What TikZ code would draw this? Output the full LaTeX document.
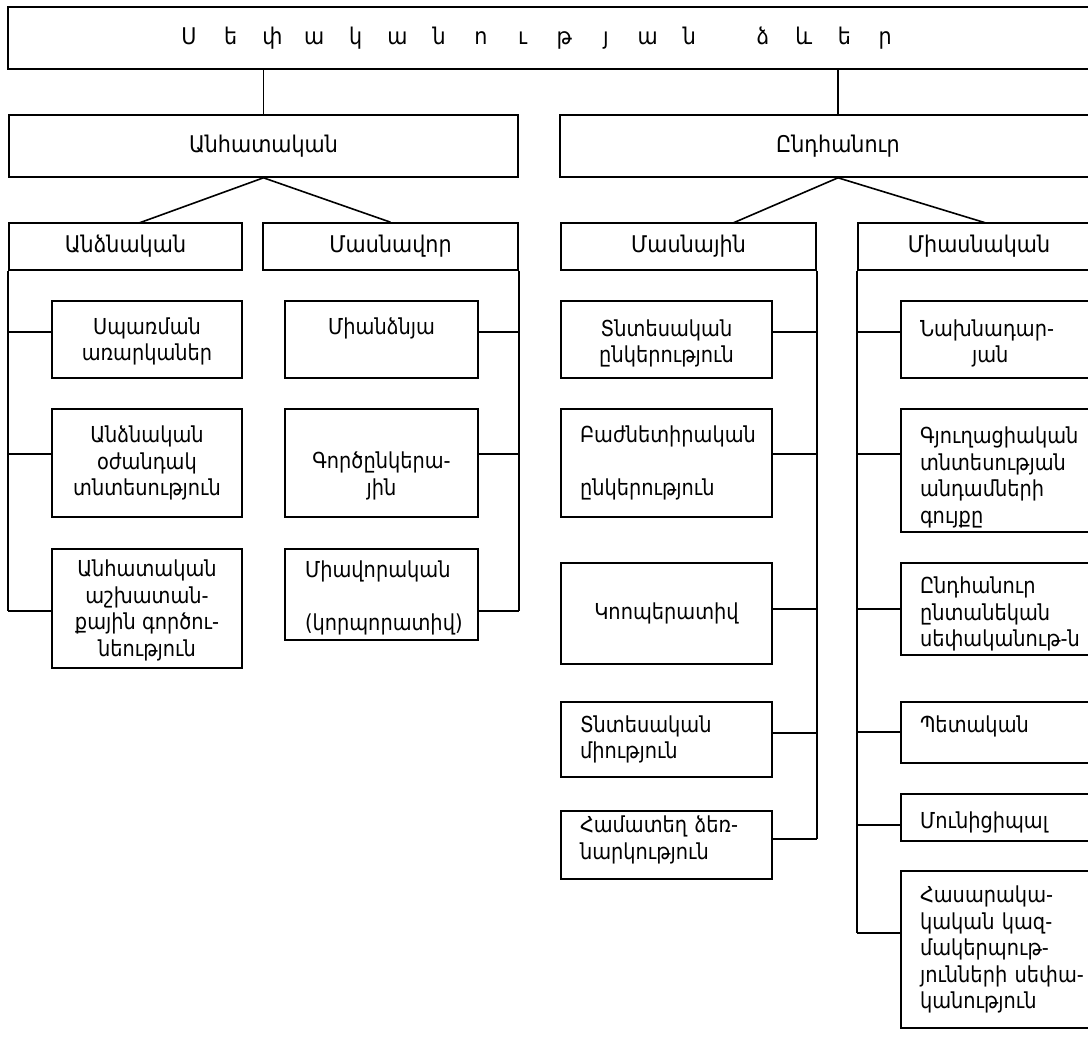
\documentclass[tikz,border=0pt]{standalone}
\usepackage{fontspec}
\setmainfont{DejaVu Sans}
\newfontfamily\hdfont[FakeStretch=0.9]{DejaVu Sans}
\newfontfamily\bdfont[FakeStretch=0.88]{DejaVu Sans}
\newcommand\bodyf{\bdfont\fontsize{22}{26.5}\selectfont}
\newcommand\headf{\hdfont\fontsize{23}{26}\selectfont}
\newcommand\tl[1]{\makebox[41.7pt]{#1}}
\newcommand\tm[1]{\makebox[40.7pt]{#1}}
\newcommand\up[1]{\rule{0pt}{#1pt}}
\newcommand\dn[1]{\rule[-#1pt]{0pt}{#1pt}}
\newcommand\bx[7][]{\node[box,#1,minimum width=#5pt,minimum height=#6pt] (#2) at ({#3+#5/2},{#4+#6/2}) {#7};}
\begin{document}
\begin{tikzpicture}[x=1pt,y=-1pt,
  box/.style={draw, line width=1.6pt, inner sep=0pt, align=center, font=\bodyf},
  hd/.style={font=\headf},
  lft/.style={align=left, text width=#1pt},
  conn/.style={line width=1.6pt},
]
\useasboundingbox (0,0) rectangle (1088,1039);
\clip (0,0) rectangle (1088,1039);
% level 1
\bx[hd]{title}{8}{7}{1092}{62}{\makebox[1092pt][l]{\hspace*{160.15pt}\tl{Ս}\tl{ե}\tl{փ}\tl{ա}\tl{կ}\tl{ա}\tl{ն}\tl{ո}\tl{ւ}\tl{թ}\tl{յ}\tl{ա}\tl{ն}\hspace*{32.4pt}\tm{ձ}\tm{և}\tm{ե}\tm{ր}}}
% level 2
\bx[hd]{anih}{9}{115}{509}{62}{Անհատական}
\bx[hd]{endh}{560}{115}{556}{62}{Ընդհանուր}
% level 3
\bx[hd]{andz}{9}{223}{233}{47}{Անձնական}
\bx[hd]{masnv}{263}{223}{255}{47}{Մասնավոր}
\bx[hd]{masny}{561}{223}{255}{47}{Մասնային}
\bx[hd]{miasn}{858}{223}{242}{47}{Միասնական}
% left column
\bx{a1}{52}{301}{190}{77}{\up{21}Սպառման\\առարկաներ}
\bx{a2}{52}{409}{190}{108}{Անձնական\\օժանդակ\\տնտեսություն}
\bx{a3}{52}{549}{190}{119}{\up{21}Անհատական\\աշխատան-\\քային գործու-\\նեություն}
% masnavor column
\bx{m1}{285}{301}{193}{77}{Միանձնյա\\\mbox{}}
\bx{m2}{285}{409}{193}{108}{\up{16}\\Գործընկերա-\\յին}
\bx[lft=153]{m3}{285}{549}{193}{91}{\up{24}Միավորական\\\mbox{}\\(կորպորատիվ)}
% masnayin column
\bx{b1}{561}{301}{211}{77}{\up{25}Տնտեսական\\ընկերություն}
\bx[lft=173]{b2}{561}{409}{211}{108}{Բաժնետիրական\\\mbox{}\\ընկերություն}
\bx{b3}{561}{563}{211}{101}{Կոոպերատիվ}
\bx[lft=173]{b4}{561}{702}{211}{75}{Տնտեսական\\միություն}
\bx[lft=173]{b5}{561}{811}{211}{68}{Համատեղ ձեռ-\\նարկություն\dn{15}}
% miasnakan column
\bx[lft=191]{c1}{901}{301}{229}{77}{\up{25}Նախնադար-\\\hspace*{52pt}յան}
\bx[lft=191]{c2}{901}{409}{229}{123}{\up{31}Գյուղացիական\\տնտեսության\\անդամների\\գույքը}
\bx[lft=191]{c3}{901}{563}{229}{92}{\up{27}Ընդհանուր\\ընտանեկան\\սեփականութ-ն}
\bx[lft=191]{c4}{901}{702}{229}{61}{Պետական\dn{16}}
\bx[lft=191]{c5}{901}{794}{229}{47}{\up{27}Մունիցիպալ}
\bx[lft=191]{c6}{901}{871}{229}{157}{Հասարակա-\\կական կազ-\\մակերպութ-\\յունների սեփա-\\կանություն}
% connector points
\coordinate (dA) at (139,223);
\coordinate (dM) at (733,223);
\coordinate (dN) at (986,223);
\coordinate (a1c) at (52,332);
\coordinate (a2c) at (52,454);
\coordinate (a3c) at (52,611);
\coordinate (m1c) at (478,332);
\coordinate (m2c) at (478,454);
\coordinate (m3c) at (478,611);
\coordinate (b1c) at (772,332);
\coordinate (b2c) at (772,454);
\coordinate (b3c) at (772,609);
\coordinate (b4c) at (772,733);
\coordinate (b5c) at (772,839);
\coordinate (c1c) at (901,332);
\coordinate (c2c) at (901,454);
\coordinate (c3c) at (901,609);
\coordinate (c4c) at (901,732);
\coordinate (c5c) at (901,825);
\coordinate (c6c) at (901,933);
% top connectors
\draw[conn] (anih.north |- title.south) -- (anih.north);
\draw[conn] (endh.north |- title.south) -- (endh.north);
\draw[conn] (anih.south) -- (dA);
\draw[conn] (anih.south) -- (masnv.north);
\draw[conn] (endh.south) -- (dM);
\draw[conn] (endh.south) -- (dN);
% trunks
\draw[conn] (andz.south west) -- (a3c -| andz.south west);
\draw[conn] (masnv.south east) -- (m3c -| masnv.south east);
\draw[conn] (masny.south east) -- (b5c -| masny.south east);
\draw[conn] (miasn.south west) -- (c6c -| miasn.south west);
% stubs
\foreach \p in {a1c,a2c,a3c} \draw[conn] (\p) -- (\p -| andz.south west);
\foreach \p in {m1c,m2c,m3c} \draw[conn] (\p) -- (\p -| masnv.south east);
\foreach \p in {b1c,b2c,b3c,b4c,b5c} \draw[conn] (\p) -- (\p -| masny.south east);
\foreach \p in {c1c,c2c,c3c,c4c,c5c,c6c} \draw[conn] (\p) -- (\p -| miasn.south west);
\end{tikzpicture}
\end{document}
